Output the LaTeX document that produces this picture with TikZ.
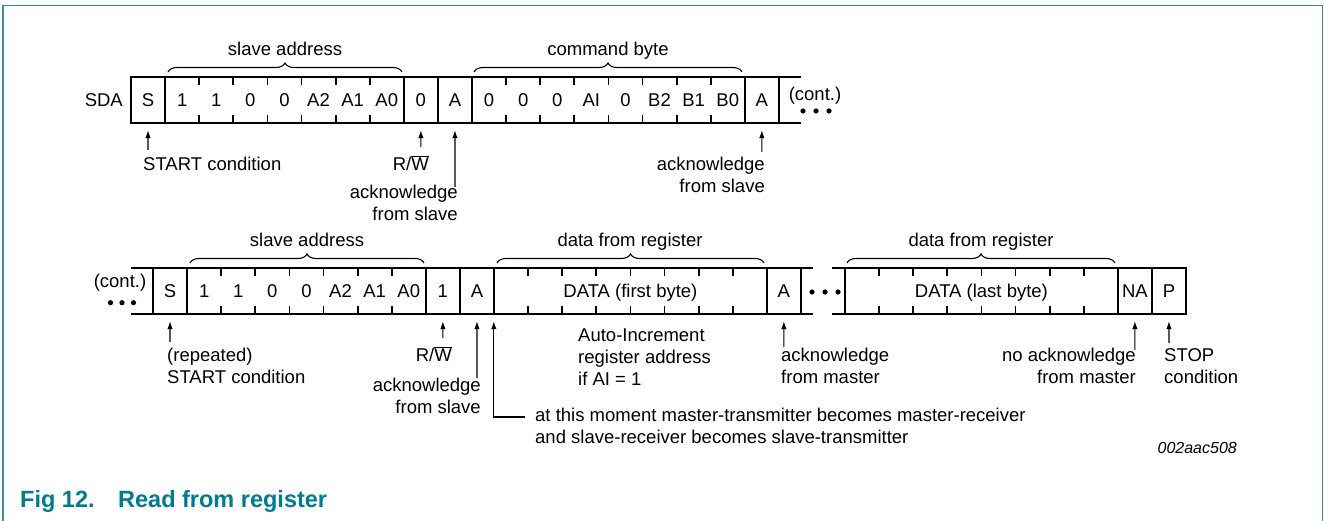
\documentclass[tikz,border=0pt]{standalone}
\usepackage{fontspec}
\setmainfont{Liberation Sans}
\usetikzlibrary{arrows.meta,decorations.pathreplacing}
\definecolor{frameteal}{RGB}{58,143,160}
\definecolor{capteal}{RGB}{0,122,140}
\newcommand\mlines[2][l]{\begin{tabular}[t]{@{}#1@{}}#2\end{tabular}}
\begin{document}
\begin{tikzpicture}[x=1pt,y=-1pt,
  every node/.style={inner sep=0pt, font=\fontsize{18.5pt}{22pt}\selectfont},
  cell/.style={minimum width=34.1pt, minimum height=46pt, text height=13.2pt, text depth=0pt},
  boxline/.style={line width=2pt, line cap=rect},
  tickline/.style={line width=1.8pt},
  arr/.style={line width=1.1pt, -{Latex[length=8pt,width=5.5pt]}, shorten >=7pt},
  brc/.style={decorate, decoration={brace, amplitude=9pt}, line width=1.1pt},
  caption/.style={text=capteal, font=\bfseries\fontsize{23.5pt}{27pt}\selectfont},
]
\useasboundingbox (0,0) rectangle (1324,521);
% frame
\draw[frameteal, line width=1.6pt] (2.7,521) -- (2.7,5.7) -- (1322.3,5.7) -- (1322.3,521);

% ---------------- Row 1 ----------------
\node[anchor=base east] (sda) at (123,106.6) {SDA};
\foreach \t [count=\i] in {S,1,1,0,0,A2,A1,A0,0,A,0,0,0,AI,0,B2,B1,B0,A}
  \node[cell] (r\i) at ({131+34.1*(\i-0.5)},100) {\t};
\draw[boxline] (131,77) -- (800,77) (131,123) -- (800,123);
\foreach \k in {0,1,8,9,10,18,19}
  \draw[boxline] ({131+34.1*\k},77) -- ({131+34.1*\k},123);
\foreach \k in {2,3,4,5,6,7,11,12,13,14,15,16,17}
  \draw[tickline] ({131+34.1*\k},77) -- ++(0,8) ({131+34.1*\k},123) -- ++(0,-8);
\node (cont1) at (815,96) {(cont.)};
\foreach \x in {803,816,829} \fill (\x,111) circle (2.6);

\draw[brc] (168,72) -- (402,72);
\node[anchor=base] (sa1) at (285,56) {slave address};
\draw[brc] (474,72) -- (742,72);
\node[anchor=base] (cb1) at (608,56) {command byte};

\coordinate (t1) at (148,150);
\coordinate (t2) at (420.85,147);
\coordinate (t3) at (454.95,187);
\coordinate (t4) at (761.85,152);
\draw[arr] (t1) -- (r1.south);
\draw[arr] (t2) -- (r9.south);
\draw[arr] (t3) -- (r10.south);
\draw[arr] (t4) -- (r19.south);
\node[anchor=base west] (lstart) at (143,170.5) {START condition};
\node[anchor=base east] (lrw1) at (429,170.5) {R/$\overline{\mbox{W}}$};
\node[anchor=base east] (lack1) at (458,198.5) {\mlines[r]{acknowledge\\from slave}};
\node[anchor=base east] (lack2) at (765,171) {\mlines[r]{acknowledge\\from slave}};

% ---------------- Row 2 ----------------
\node (cont2) at (120,283) {(cont.)};
\foreach \x in {110.5,122,133.5} \fill (\x,302.7) circle (2.6);
\foreach \t [count=\i] in {S,1,1,0,0,A2,A1,A0,1,A}
  \node[cell] (q\i) at ({153+34.1*(\i-0.5)},291) {\t};
\node[cell, minimum width=272.8pt] (d1) at ({153+34.1*14},291) {DATA (first byte)};
\node[cell] (q19) at ({153+34.1*18.5},291) {A};
\draw[boxline] (132,268) -- (812,268) (132,314) -- (812,314);
\foreach \k in {0,1,8,9,10,18,19}
  \draw[boxline] ({153+34.1*\k},268) -- ({153+34.1*\k},314);
\foreach \k in {2,3,4,5,6,7,11,12,13,14,15,16,17}
  \draw[tickline] ({153+34.1*\k},268) -- ++(0,8) ({153+34.1*\k},314) -- ++(0,-8);
\foreach \x in {812,825,838} \fill (\x,292) circle (2.6);

\node[cell, minimum width=272.8pt] (d2) at ({845+34.1*4},291) {DATA (last byte)};
\node[cell] (na) at ({845+34.1*8.5},291) {NA};
\node[cell] (pp) at ({845+34.1*9.5},291) {P};
\draw[boxline] (833,268) -- (1186,268) (833,314) -- (1186,314);
\foreach \k in {0,8,9,10}
  \draw[boxline] ({845+34.1*\k},268) -- ({845+34.1*\k},314);
\foreach \k in {1,2,3,4,5,6,7}
  \draw[tickline] ({845+34.1*\k},268) -- ++(0,8) ({845+34.1*\k},314) -- ++(0,-8);

\draw[brc] (190,263) -- (424,263);
\node[anchor=base] (sa2) at (307,247) {slave address};
\draw[brc] (497,263) -- (764,263);
\node[anchor=base] (dr1) at (630,247) {data from register};
\draw[brc] (847,263) -- (1115,263);
\node[anchor=base] (dr2) at (981,247) {data from register};

\coordinate (u1) at (170,342);
\coordinate (u2) at (442.9,338);
\coordinate (u3) at (477,378);
\coordinate (u4) at (525,417);
\coordinate (u5) at (783.9,347);
\coordinate (u6) at (1134.85,350);
\coordinate (u7) at (1168.95,343);
\draw[arr] (u1) -- (q1.south);
\draw[arr] (u2) -- (q9.south);
\draw[arr] (u3) -- (q10.south);
\draw[arr] (u4) -| (d1.south west);
\draw[arr] (u5) -- (q19.south);
\draw[arr] (u6) -- (na.south);
\draw[arr] (u7) -- (pp.south);

\node[anchor=base west] (lrep) at (167,361.7) {\mlines{(repeated)\\START condition}};
\node[anchor=base east] (lrw2) at (452,361) {R/$\overline{\mbox{W}}$};
\node[anchor=base east] (lack3) at (481,391) {\mlines[r]{acknowledge\\from slave}};
\node[anchor=base west] (lmom) at (535,421.7) {\mlines{at this moment master-transmitter becomes master-receiver\\and slave-receiver becomes slave-transmitter}};
\node[anchor=base west] (lauto) at (578,341) {\mlines{Auto-Increment\\register address\\if AI = 1}};
\node[anchor=base west] (lackm) at (781,361.7) {\mlines{acknowledge\\from master}};
\node[anchor=base east] (lna) at (1136,361) {\mlines[r]{no acknowledge\\from master}};
\node[anchor=base west] (lstop) at (1164,361) {\mlines{STOP\\condition}};

\node[anchor=base east, font=\itshape\fontsize{16pt}{19pt}\selectfont] (code) at (1237,453) {002aac508};

% caption
\node[caption, anchor=base west] (fig) at (20,507) {Fig 12.};
\node[caption, anchor=base west] (figt) at (118,507) {Read from register};
\end{tikzpicture}
\end{document}
